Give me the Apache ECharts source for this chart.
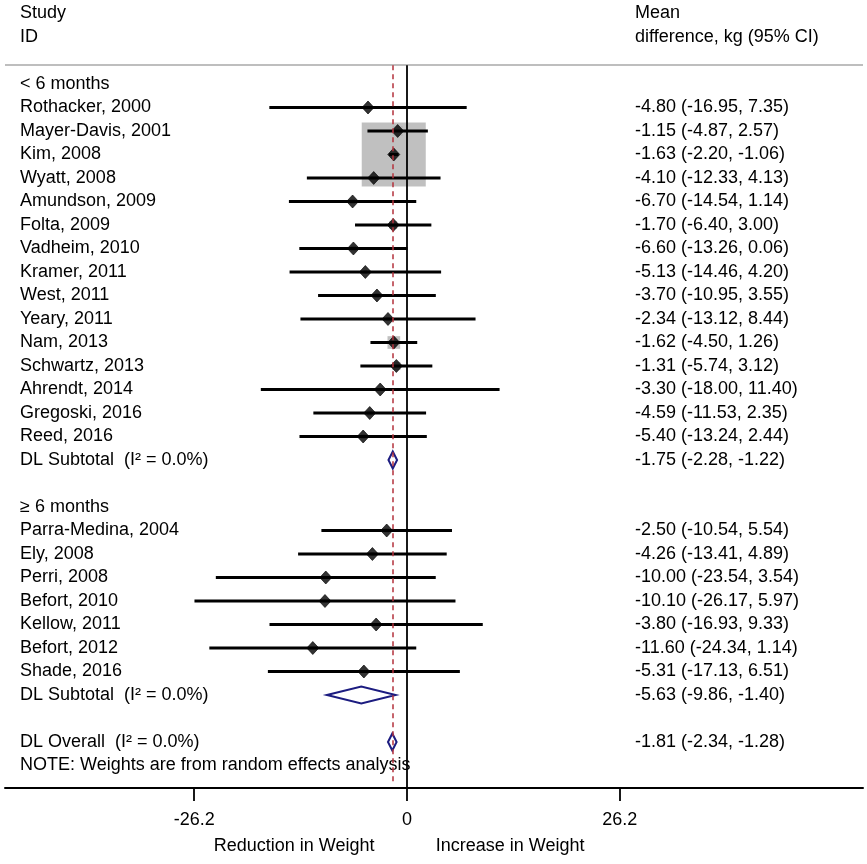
<!DOCTYPE html>
<html><head><meta charset="utf-8">
<script src="https://cdn.jsdelivr.net/npm/echarts@6/dist/echarts.min.js"></script>
<style>html,body{margin:0;padding:0;background:#fff}#c{width:867px;height:864px}</style>
</head><body><div id="c"></div>
<script>
// ---------- DATA ----------
const groupTitles = ["< 6 months", "\u2265 6 months"];
const names1 = ["Rothacker, 2000","Mayer-Davis, 2001","Kim, 2008","Wyatt, 2008","Amundson, 2009","Folta, 2009","Vadheim, 2010","Kramer, 2011","West, 2011","Yeary, 2011","Nam, 2013","Schwartz, 2013","Ahrendt, 2014","Gregoski, 2016","Reed, 2016"];
const est1 = [-4.80,-1.15,-1.63,-4.10,-6.70,-1.70,-6.60,-5.13,-3.70,-2.34,-1.62,-1.31,-3.30,-4.59,-5.40];
const lo1  = [-16.95,-4.87,-2.20,-12.33,-14.54,-6.40,-13.26,-14.46,-10.95,-13.12,-4.50,-5.74,-18.00,-11.53,-13.24];
const hi1  = [7.35,2.57,-1.06,4.13,1.14,3.00,0.06,4.20,3.55,8.44,1.26,3.12,11.40,2.35,2.44];
const wt1  = [0.19,2.03,86.36,0.41,0.46,1.27,0.63,0.32,0.53,0.24,3.38,1.43,0.13,0.58,0.46]; // weight %
const names2 = ["Parra-Medina, 2004","Ely, 2008","Perri, 2008","Befort, 2010","Kellow, 2011","Befort, 2012","Shade, 2016"];
const est2 = [-2.50,-4.26,-10.00,-10.10,-3.80,-11.60,-5.31];
const lo2  = [-10.54,-13.41,-23.54,-26.17,-16.93,-24.34,-17.13];
const hi2  = [5.54,4.89,3.54,5.97,9.33,1.14,6.51];
const wt2  = [0.43,0.34,0.15,0.11,0.16,0.17,0.20];
const subEst = [-1.75,-5.63];
const subLo  = [-2.28,-9.86];
const subHi  = [-1.22,-1.40];
const overallEst = [-1.81], overallLo = [-2.34], overallHi = [-1.28];
const subtotalLabel = "DL Subtotal  (I\u00B2 = 0.0%)";
const overallLabel  = "DL Overall  (I\u00B2 = 0.0%)";
const noteText = "NOTE: Weights are from random effects analysis";
const headerLeft  = ["Study","ID"];
const headerRight = ["Mean","difference, kg (95% CI)"];
const xTicks = [-26.2, 0, 26.2];
const favourLabels = ["Reduction in Weight","Increase in Weight"];
const favourAt = [-13.9, 12.7];

// ---------- BUILD ROWS ----------
const fmt = (e,l,h) => `${e.toFixed(2)} (${l.toFixed(2)}, ${h.toFixed(2)})`;
const leftMap = {}, rightMap = {};
const studyPts = [], sumPts = [];
leftMap[-3] = headerLeft[0]; leftMap[-2] = headerLeft[1];
rightMap[-3] = headerRight[0]; rightMap[-2] = headerRight[1];
const groups = [
  {names:names1, est:est1, lo:lo1, hi:hi1, wt:wt1},
  {names:names2, est:est2, lo:lo2, hi:hi2, wt:wt2}
];
let row = 0;
groups.forEach((g, gi) => {
  leftMap[row] = groupTitles[gi]; row++;
  g.names.forEach((n, i) => {
    leftMap[row] = n; rightMap[row] = fmt(g.est[i], g.lo[i], g.hi[i]);
    studyPts.push([g.est[i], row, g.lo[i], g.hi[i], g.wt[i]]);
    row++;
  });
  leftMap[row] = subtotalLabel; rightMap[row] = fmt(subEst[gi], subLo[gi], subHi[gi]);
  sumPts.push([subEst[gi], row, subLo[gi], subHi[gi]]);
  row += 2;
});
leftMap[row] = overallLabel; rightMap[row] = fmt(overallEst[0], overallLo[0], overallHi[0]);
sumPts.push([overallEst[0], row, overallLo[0], overallHi[0]]);
row++;
leftMap[row] = noteText;
const lastRow = row;

// ---------- LAYOUT ----------
const X_MIN = -49.5, X_MAX = 56.15;
const Y_MIN = -3.574, Y_MAX = 29.957;
const TOP_LINE = -0.8;
const BOX_K = 6.89;
const FONT = "'Liberation Sans', Arial, sans-serif";
const FS = 18;
const leftVals = Object.keys(leftMap).map(Number);
const rightVals = Object.keys(rightMap).map(Number);

const chart = echarts.init(document.getElementById('c'), null, {renderer:'canvas'});
chart.setOption({
  animation: false,
  backgroundColor: '#fff',
  grid: {left: 5, right: 4, top: 0, bottom: 76, containLabel: false},
  xAxis: [
    {type:'value', position:'bottom', min:X_MIN, max:X_MAX,
     axisLine:{show:true, onZero:false, lineStyle:{color:'#000', width:2}},
     axisTick:{show:true, customValues:xTicks, length:13, lineStyle:{color:'#000', width:1.8}},
     axisLabel:{show:true, customValues:xTicks, margin:23, color:'#000', fontFamily:FONT, fontSize:FS,
                formatter: v => String(v)},
     splitLine:{show:false}},
    {type:'value', position:'bottom', min:X_MIN, max:X_MAX,
     axisLine:{show:false}, axisTick:{show:false}, splitLine:{show:false},
     axisLabel:{show:true, customValues:favourAt, margin:49, color:'#000', fontFamily:FONT, fontSize:FS,
                formatter: v => favourLabels[favourAt.indexOf(v)]}}
  ],
  yAxis: [
    {type:'value', position:'left', inverse:true, min:Y_MIN, max:Y_MAX,
     axisLine:{show:false}, axisTick:{show:false}, splitLine:{show:false},
     axisLabel:{show:true, inside:true, customValues:leftVals, margin:15, align:'left',
                color:'#000', fontFamily:FONT, fontSize:FS, formatter: v => leftMap[v] || ''}},
    {type:'value', position:'right', offset:-228, inverse:true, min:Y_MIN, max:Y_MAX,
     axisLine:{show:false}, axisTick:{show:false}, splitLine:{show:false},
     axisLabel:{show:true, inside:false, customValues:rightVals, margin:0, align:'left',
                color:'#000', fontFamily:FONT, fontSize:FS, formatter: v => rightMap[v] || ''}}
  ],
  series: [
    {type:'scatter', name:'weights', data:studyPts, encode:{x:0, y:1}, symbol:'rect',
     symbolSize: v => BOX_K * Math.sqrt(v[4]), itemStyle:{color:'#b0b0b0'}, silent:true, z:1},
    {type:'custom', name:'ci', data:studyPts, encode:{x:[2,3], y:1}, z:2, silent:true,
     renderItem: (params, api) => {
       const y = api.value(1);
       const p1 = api.coord([api.value(2), y]);
       const p2 = api.coord([api.value(3), y]);
       return {type:'line', shape:{x1:p1[0], y1:p1[1], x2:p2[0], y2:p2[1]},
               style:{stroke:'#000', lineWidth:3}};
     }},
    {type:'scatter', name:'est', data:studyPts, encode:{x:0, y:1}, symbol:'diamond',
     symbolSize:[12,13], itemStyle:{color:'#000', borderColor:'#000', borderWidth:0.8}, silent:true, z:3},
    {type:'custom', name:'summary', data:sumPts, encode:{x:[2,3], y:1}, z:4, silent:true,
     renderItem: (params, api) => {
       const y = api.value(1);
       const c = api.coord([api.value(0), y]);
       const l = api.coord([api.value(2), y]);
       const r = api.coord([api.value(3), y]);
       const h = 8.5;
       return {type:'polygon', shape:{points:[[l[0], c[1]], [c[0], c[1]-h], [r[0], c[1]], [c[0], c[1]+h]]},
               style:{fill:'none', stroke:'#1c1c80', lineWidth:2}};
     },
     markLine:{silent:true, symbol:'none', label:{show:false}, animation:false,
       data:[
         [{coord:[X_MIN, TOP_LINE], lineStyle:{color:'#a8a8a8', width:1.6, type:'solid'}},
          {coord:[X_MAX, TOP_LINE]}],
         [{coord:[0, TOP_LINE], lineStyle:{color:'#000', width:1.8, type:'solid'}},
          {coord:[0, Y_MAX]}],
         [{coord:[overallEst[0], TOP_LINE], lineStyle:{color:'#b4323c', width:1.5, type:[5,4]}},
          {coord:[overallEst[0], lastRow + 0.8]}]
       ]}}
  ]
});
</script></body></html>
